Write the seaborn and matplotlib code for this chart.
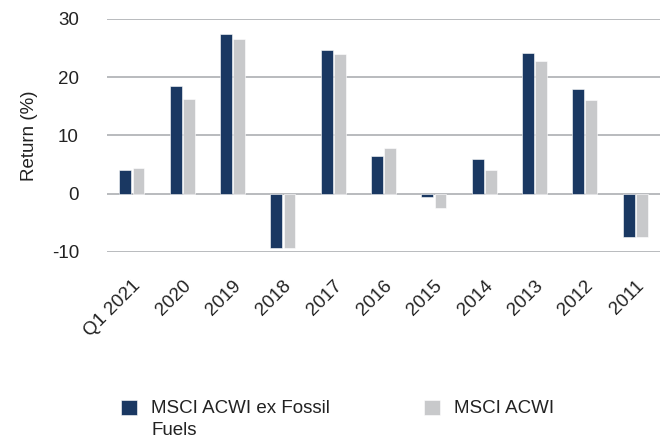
import matplotlib
matplotlib.use("Agg")
import matplotlib.pyplot as plt
import pandas as pd
import seaborn as sns

# Data
periods = ['Q1 2021', '2020', '2019', '2018', '2017', '2016', '2015', '2014', '2013', '2012', '2011']
ex_fossil = [4.0, 18.5, 27.4, -9.4, 24.7, 6.5, -0.6, 5.9, 24.2, 17.9, -7.5]
acwi = [4.4, 16.2, 26.5, -9.4, 23.9, 7.8, -2.4, 4.0, 22.8, 16.1, -7.4]
series_names = ['MSCI ACWI ex Fossil\nFuels', 'MSCI ACWI']

df = pd.DataFrame({
    'period': periods * 2,
    'value': ex_fossil + acwi,
    'series': [series_names[0]] * len(periods) + [series_names[1]] * len(periods),
})

sns.set_style('white')
plt.rcParams['font.family'] = ['Liberation Sans', 'DejaVu Sans']
plt.rcParams['axes.unicode_minus'] = False

fig = plt.figure(figsize=(6.67, 4.41), dpi=100)
ax = fig.add_axes([0.160, 0.429, 0.830, 0.528])

sns.barplot(data=df, x='period', y='value', hue='series', order=periods,
            hue_order=series_names, palette=['#1a3862', '#c8c9cb'],
            saturation=1, width=0.52, gap=0.1, edgecolor='white', linewidth=0.4,
            ax=ax, zorder=3)

ax.set_ylim(-10, 30)
ax.set_xlim(-0.5, len(periods) - 0.5)
ax.set_yticks([-10, 0, 10, 20, 30])
ax.grid(axis='y', color='#b3b5b9', linewidth=1.3, zorder=0)
ax.set_axisbelow(True)
sns.despine(ax=ax, left=True, bottom=True)

ax.set_xlabel('')
ax.set_ylabel('Return (%)', fontsize=13.5, color='#222222', labelpad=10)
ax.tick_params(axis='y', labelsize=13.5, colors='#222222', length=0, pad=20)
ax.tick_params(axis='x', labelsize=13.5, colors='#222222', length=0, pad=18)
for lbl in ax.get_xticklabels():
    lbl.set_rotation(45)
    lbl.set_ha('right')
    lbl.set_rotation_mode('anchor')

leg = ax.legend(loc='upper left', bbox_to_anchor=(-0.004, -0.565), ncol=2, frameon=False,
                fontsize=13.5, handlelength=0.85, handleheight=0.85, columnspacing=5.0,
                handletextpad=0.75, labelcolor='#222222')
for txt in leg.get_texts():
    txt.set_linespacing(1.35)
# put each legend square next to the first line of its label
leg._legend_handle_box.align = 'top'
for col in leg._legend_handle_box.get_children():
    for item in col.get_children():
        item.align = 'top'

fig.savefig('out.png', dpi=100)
